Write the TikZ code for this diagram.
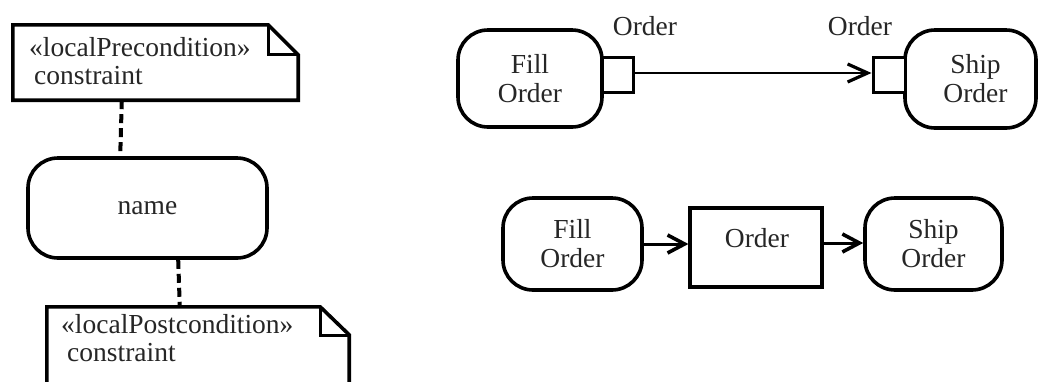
\documentclass[tikz,border=0pt]{standalone}
\usepackage{fontspec}
\setmainfont{Liberation Serif}
\usetikzlibrary{calc,arrows.meta}
\begin{document}
\begin{tikzpicture}[x=1pt,y=-1pt,
  every node/.style={font=\fontsize{27.5}{29}\selectfont, text=black!85},
  txt/.style={inner sep=0pt, align=center},
  notetxt/.style={inner sep=0pt, align=left, anchor=west},
  outline/.style={draw=black, line width=3.6pt, line join=miter},
  action/.style={outline, rounded corners=30pt, inner sep=0pt, align=center},
  pinbox/.style={outline, line width=3pt, inner sep=0pt, fill=white},
  objbox/.style={outline, line width=3.2pt, inner sep=0pt},
  hole/.style={inner sep=0pt},
  anchorline/.style={draw=black, line width=4pt, dash pattern=on 9pt off 5pt},
  flow/.style={draw=black, line width=2pt, -{Straight Barb[length=20pt,width=18pt,line width=3.2pt]}},
  flowthick/.style={draw=black, line width=3pt, -{Straight Barb[length=17pt,width=18pt,line width=3.6pt]}}
]
\clip (0,0) rectangle (1039,381);
\fill[white] (0,0) rectangle (1039,381);

% ---------- action with local pre- and postcondition notes ----------
\node[hole, minimum width=285pt, minimum height=75pt] (pre) at (155.5,62.5) {};
\draw[outline] (pre.south west) -- (pre.north west) -- ([xshift=-30pt]pre.north east)
  -- ([yshift=-30pt]pre.north east) -- (pre.south east) -- cycle;
\draw[outline, line width=3pt] ([xshift=-30pt]pre.north east) -- ([xshift=-30pt,yshift=-30pt]pre.north east)
  -- ([yshift=-30pt]pre.north east);
\node[notetxt] (pretxt) at (29,61) {«localPrecondition»\\[-1pt]\hspace{5pt}constraint};

\node[action, minimum width=239pt, minimum height=100pt] (act) at (147.5,208) {name};

\node[hole, minimum width=302pt, minimum height=90pt] (post) at (198,352) {};
\draw[outline] (post.south west) -- (post.north west) -- ([xshift=-29pt]post.north east)
  -- ([yshift=-28pt]post.north east) -- (post.south east) -- cycle;
\draw[outline, line width=3pt] ([xshift=-29pt]post.north east) -- ([xshift=-29pt,yshift=-29pt]post.north east)
  -- ([yshift=-29pt]post.north east);
\node[notetxt] (posttxt) at (61,338) {«localPostcondition»\\[-1pt]\hspace{6pt}constraint};

\draw[anchorline] ($(pre.south west)+(109pt,0)$) -- ($(act.north west)+(94pt,0)$);
\draw[anchorline] ($(act.south west)+(152pt,0)$) -- ($(post.north west)+(133pt,0)$);

% ---------- actions connected through output and input pins ----------
\node[action, minimum width=144pt, minimum height=97pt] (fillA) at (530,78.5) {Fill\\Order};
\node[pinbox, minimum width=31pt, minimum height=35pt] (outpin) at (617.5,74.5) {};
\node[txt] (outlbl) at (645,26) {Order};

\node[action, minimum width=131pt, minimum height=98pt] (shipA) at (970.5,79) {\hspace*{10pt}Ship\\\hspace*{10pt}Order};
\node[pinbox, minimum width=32pt, minimum height=35pt] (inpin) at (889,74.5) {};
\node[txt] (inlbl) at (860,26) {Order};

\draw[flow] ([yshift=1.5pt]outpin.east) -- ([yshift=1.5pt]inpin.west);

% ---------- actions connected through an object node ----------
\node[action, minimum width=139pt, minimum height=92pt] (fillB) at (572.5,244) {Fill\\Order};
\node[objbox, minimum width=132pt, minimum height=79pt] (obj) at (756,247.5) {};
\node[txt] (objtxt) at (757,238) {Order};
\node[action, minimum width=137pt, minimum height=92pt] (shipB) at (933.5,244) {Ship\\Order};

\draw[flowthick] (fillB.east) -- (obj.west |- fillB.east);
\draw[flowthick] ([yshift=4.5pt]obj.east) -- ([yshift=1pt]shipB.west);
\end{tikzpicture}
\end{document}
